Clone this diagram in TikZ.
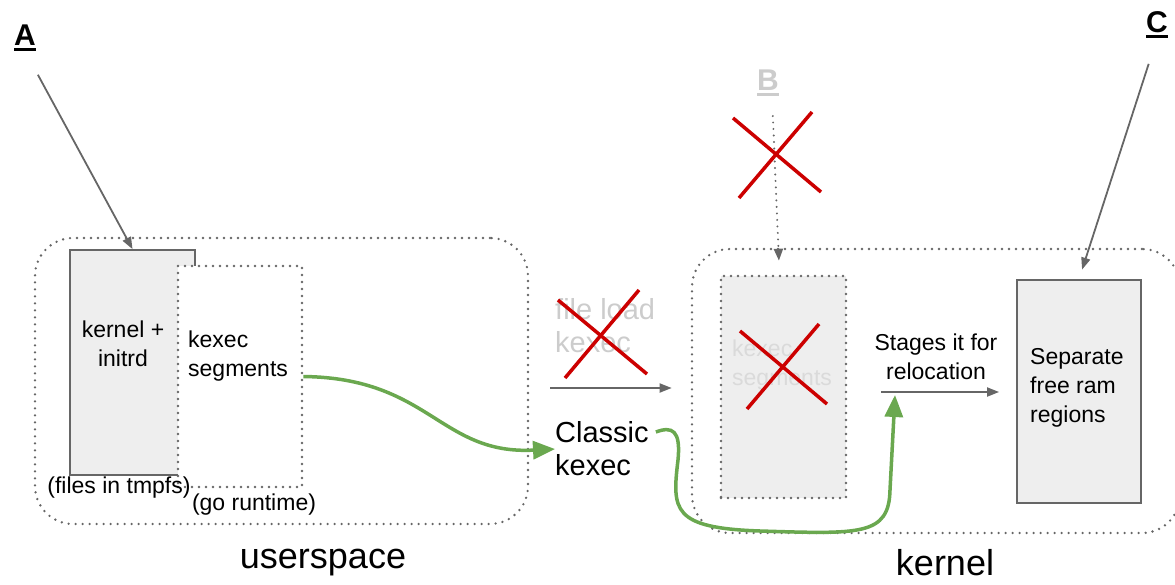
\documentclass[tikz,border=0pt]{standalone}
\usepackage{fontspec}
\setmainfont{Liberation Sans}
\usepackage{xcolor}
\usetikzlibrary{arrows.meta}

\definecolor{dotgray}{HTML}{666666}
\definecolor{boxgray}{HTML}{666666}
\definecolor{gfill}{HTML}{EEEEEE}
\definecolor{xred}{HTML}{CC0000}
\definecolor{okgreen}{HTML}{6AA84F}
\definecolor{faded}{HTML}{CCCCCC}
\definecolor{fadedin}{HTML}{DADADA}

% thick underline for the tags
\newcommand\tagul[1]{\setbox0\hbox{#1}\rlap{\rule[-5pt]{\wd0}{3pt}}\box0}

\begin{document}
\begin{tikzpicture}[x=1pt,y=-1pt,
    every node/.style={inner sep=0pt},
    dots/.style={line width=2.6pt, dash pattern=on 0pt off 7pt, line cap=round},
    region/.style={draw=dotgray, dots, rounded corners=38pt},
    membox/.style={draw=boxgray, line width=1.8pt, fill=gfill},
    segbox/.style={draw=dotgray, dots},
    txt/.style={font=\fontsize{23}{29}\selectfont, align=left},
    bigtxt/.style={font=\fontsize{29}{33}\selectfont, align=left},
    caption/.style={font=\fontsize{36}{40}\selectfont},
    tag/.style={font=\fontsize{30}{34}\selectfont\bfseries},
    ptr/.style={draw=dotgray, line width=1.8pt, -{Triangle[length=12pt,width=9pt]}},
    cross/.style={draw=xred, line width=3.5pt},
    flow/.style={draw=okgreen, line width=3.5pt, -{Triangle[length=22pt,width=18pt]}}]
  \useasboundingbox (0,0) rectangle (1175,584);

  % userspace side
  \node[region, minimum width=493pt, minimum height=286pt] (user) at (281.5,381) {};
  \node[membox, minimum width=125pt, minimum height=225pt] (initrd) at (132.5,362.5) {};
  \node[segbox, fill=white, minimum width=124pt, minimum height=221pt] (segU) at (240,376.5) {};
  \node[txt, align=center] (initrdtxt) at (123,344) {kernel +\\initrd};
  \node[txt, anchor=west] (segUtxt) at (188,356) {kexec\\segments};
  \node[txt] (tmpfs) at (119,488) {(files in tmpfs)};
  \node[txt] (gort) at (254,505) {(go runtime)};
  \node[caption] (usertxt) at (323,563) {userspace};

  % kernel side
  \node[region, minimum width=488pt, minimum height=284pt] (kern) at (936,391) {};
  \node[segbox, fill=gfill, minimum width=125pt, minimum height=222pt] (segK) at (783.5,387) {};
  \node[txt, anchor=west, text=fadedin] (segKtxt) at (732,365) {kexec\\segments};
  \node[membox, minimum width=124pt, minimum height=223pt] (ram) at (1079,391.5) {};
  \node[txt, anchor=west] (ramtxt) at (1030,388) {Separate\\free ram\\regions};
  \node[txt, align=center] (stages) at (936,357) {Stages it for\\relocation};
  \node[caption] (kerntxt) at (945,563) {kernel};

  % between the two
  \node[bigtxt, anchor=west, text=faded] (fileload) at (555,326) {file load\\kexec};
  \node[bigtxt, anchor=west] (classic) at (555,449) {Classic\\kexec};

  % tags
  \node[tag] (A) at (25,38) {\tagul{A}};
  \node[tag, text=faded] (B) at (768,83) {\tagul{B}};
  \node[tag] (C) at (1157,25) {\tagul{C}};

  \coordinate (ld) at (550,388);
  \coordinate (stg) at (881,392);
  \coordinate (relo) at (895,395);

  \draw[ptr, shorten <=27pt] (A.south) -- (initrd.north);
  \draw[ptr, shorten <=27pt, shorten >=10pt] (C.south) -- (ram.north);
  \draw[ptr, line width=2.2pt, dash pattern=on 0pt off 6.5pt, line cap=round,
    shorten <=20pt, shorten >=14pt] ([xshift=4pt]B.south) -- ([xshift=-4pt]segK.north);
  \draw[ptr, shorten >=19pt] (ld) -- (kern.west |- ld);
  \draw[ptr, shorten >=17pt] (stg) -- (ram.west |- stg);

  \draw[flow] (segU.east) .. controls (430,378) and (440,455) .. (classic.west);
  \draw[flow] ([shift={(7pt,17pt)}]classic.east)
    .. controls (672,426) and (681,430) .. (678,460)
    .. controls (672,510) and (672,528) .. (760,531)
    .. controls (860,534) and (889,536) .. (890,490)
    -- (relo);

  % struck out paths
  \draw[cross] (558,300) -- (647,374);
  \draw[cross] (565,378) -- (639,290);
  \draw[cross] (733,118) -- (821,192);
  \draw[cross] (739,198) -- (812,112);
  \draw[cross] (740,331) -- (827,404);
  \draw[cross] (747,409) -- (819,324);
\end{tikzpicture}
\end{document}
